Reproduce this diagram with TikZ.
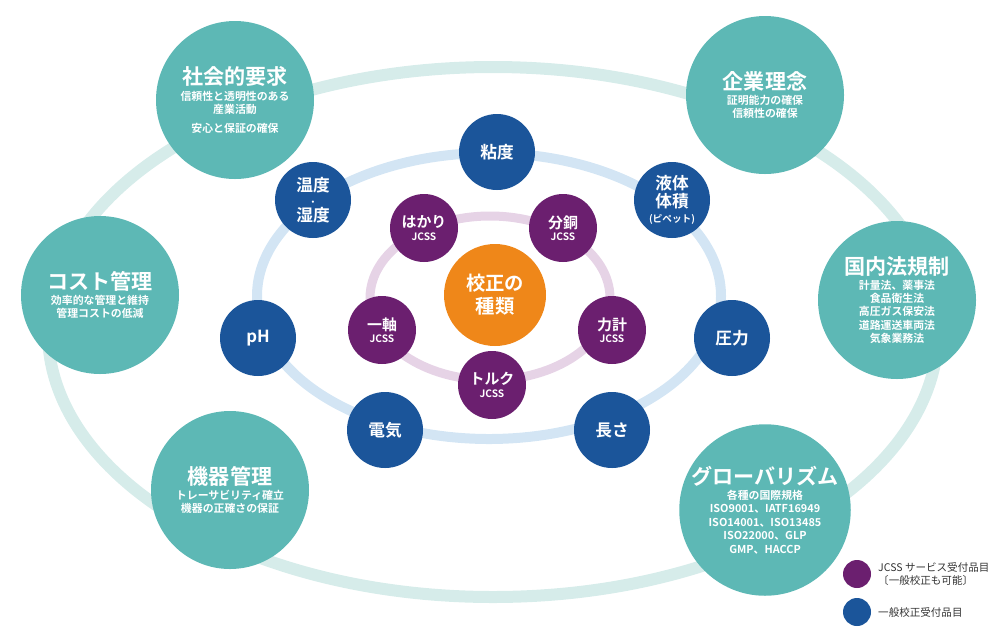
\documentclass[tikz,border=0pt]{standalone}
\usepackage{fontspec}
\setmainfont{Noto Sans CJK JP}[BoldFont={* Bold}]
\definecolor{tealc}{HTML}{5DB8B5}
\definecolor{bluec}{HTML}{1B559A}
\definecolor{purc}{HTML}{6B1F6F}
\definecolor{orac}{HTML}{EF8719}
\definecolor{ringo}{HTML}{D6ECEA}
\definecolor{ringm}{HTML}{D3E5F4}
\definecolor{ringi}{HTML}{E6D3E6}
\newcommand\bttl{\bfseries\fontsize{12}{14}\selectfont}
\newcommand\jcs{\bfseries\fontsize{5.8}{7}\selectfont JCSS}
\begin{document}
\begin{tikzpicture}[x=0.02cm,y=-0.02cm,
 big/.style={circle,fill=tealc,text=white,minimum size=158*0.02cm,inner sep=0,align=center,font=\bfseries\fontsize{6.2}{7.6}\selectfont},
 bl/.style={circle,fill=bluec,text=white,minimum size=76*0.02cm,inner sep=0,align=center,font=\bfseries\fontsize{9.5}{10.5}\selectfont},
 pu/.style={circle,fill=purc,text=white,minimum size=68*0.02cm,inner sep=0,align=center,font=\bfseries\fontsize{8.5}{9}\selectfont},
 lg/.style={circle,minimum size=28*0.02cm,inner sep=0},
 lt/.style={anchor=west,align=left,font=\fontsize{6}{7.8}\selectfont,text=black!80}]
\useasboundingbox (0,0) rectangle (1000,640);
\draw[ringo,line width=12*0.02cm] (493,332) ellipse [x radius=445,y radius=265];
\draw[ringm,line width=10*0.02cm] (489,296) ellipse [x radius=232,y radius=143];
\draw[ringi,line width=9*0.02cm] (490,298) ellipse [x radius=120,y radius=82];
\node[big] (s) at (235,100) {{\bttl 社会的要求}\\[1pt]信頼性と透明性のある\\産業活動\\[3pt]安心と保証の確保};
\node[big] (k) at (765,95) {{\bttl 企業理念}\\[1pt]証明能力の確保\\信頼性の確保};
\node[big] (c) at (100,295) {{\bttl コスト管理}\\[1pt]効率的な管理と維持\\管理コストの低減};
\node[big] (h) at (897,300) {{\bttl 国内法規制}\\[1pt]計量法、薬事法\\食品衛生法\\高圧ガス保安法\\道路運送車両法\\気象業務法};
\node[big] (m) at (230,490) {{\bttl 機器管理}\\[1pt]トレーサビリティ確立\\機器の正確さの保証};
\node[big,minimum size=170*0.02cm] (g) at (765,510) {{\bttl グローバリズム}\\[1pt]各種の国際規格\\ISO9001、IATF16949\\ISO14001、ISO13485\\ISO22000、GLP\\GMP、HACCP};
\node[bl] (n1) at (497,152) {粘度};
\node[bl] (n2) at (672,200) {液体\\体積\\[-2pt]{\fontsize{5.5}{6}\selectfont (ピペット)}};
\node[bl,font=\bfseries\fontsize{9.5}{8}\selectfont] (n3) at (313,200) {温度\\{\fontsize{5}{5}\selectfont ・}\\湿度};
\node[bl] (n4) at (258,338) {pH};
\node[bl] (n5) at (732,338) {圧力};
\node[bl] (n6) at (385,430) {電気};
\node[bl] (n7) at (612,430) {長さ};
\node[pu] (p1) at (424,228) {はかり\\[-2pt]{\jcs}};
\node[pu] (p2) at (563,228) {分銅\\[-2pt]{\jcs}};
\node[pu] (p3) at (382,330) {一軸\\[-2pt]{\jcs}};
\node[pu] (p4) at (612,330) {力計\\[-2pt]{\jcs}};
\node[pu] (p5) at (492,385) {トルク\\[-2pt]{\jcs}};
\node[circle,fill=orac,text=white,minimum size=102*0.02cm,inner sep=0,align=center,font=\bfseries\fontsize{11}{13}\selectfont] (o) at (495,295) {校正の\\種類};
\node[lg,fill=purc] (l1) at (857,574) {};
\node[lt] (t1) at (872,574) {JCSS サービス受付品目\\〔一般校正も可能〕};
\node[lg,fill=bluec] (l2) at (857,612) {};
\node[lt] (t2) at (872,612) {一般校正受付品目};
\end{tikzpicture}
\end{document}
